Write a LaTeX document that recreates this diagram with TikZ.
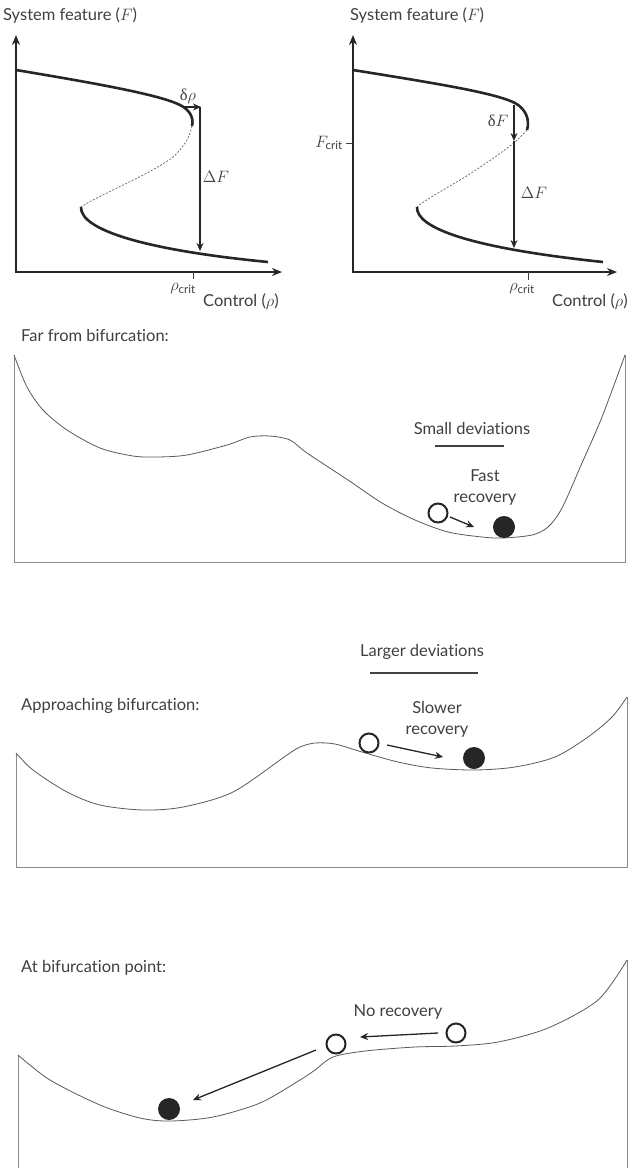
\documentclass[tikz,border=0pt]{standalone}
\usepackage{fix-cm}
\usepackage{fontspec}
\setmainfont{Lato}[Ligatures=NoCommon]
\newfontfamily\grk{Liberation Serif}
\usetikzlibrary{arrows.meta}
\definecolor{ink}{HTML}{262626}
\definecolor{txt}{HTML}{404040}
\definecolor{landc}{HTML}{5A5A5A}
\definecolor{boxc}{HTML}{8A8A8A}
\newcommand\critsub{\mbox{\fontsize{11.5}{13}\selectfont crit}}
\begin{document}
\begin{tikzpicture}[x=1pt,y=-1pt,
  lbl/.style={font=\fontsize{16.5}{21}\selectfont, text=txt, inner sep=0pt},
  scurve/.style={line width=2.6pt, draw=ink},
  unst/.style={line width=0.8pt, draw=gray!90!black, dash pattern=on 2pt off 1.6pt},
  axes/.style={line width=1.8pt, draw=ink, {Stealth[length=10pt,width=8pt]}-{Stealth[length=10pt,width=8pt]}},
  arr/.style={line width=1.3pt, draw=ink, -{Stealth[length=8pt,width=7pt]}},
  tickmark/.style={line width=0.9pt, draw=txt},
  landline/.style={line width=0.8pt, draw=landc},
  boxline/.style={line width=0.9pt, draw=boxc},
  uline/.style={line width=1.1pt, draw=txt},
  openball/.style={circle, draw=ink, line width=2pt, minimum size=19pt, inner sep=0pt},
  fullball/.style={circle, fill=ink, minimum size=22pt, inner sep=0pt}]
\useasboundingbox (0,0) rectangle (630,1168);
\fill[white] (0,0) rectangle (630,1168);

% ---------- left bifurcation plot ----------
\coordinate (ya) at (16,35);
\coordinate (oa) at (16,272);
\coordinate (xa) at (282,272);
\draw[axes] (ya) -- (oa) -- (xa);
\draw[scurve] (16,70) .. controls (100,84) and (160,95) .. (180,105)
  .. controls (190,110) and (194,118) .. (192,126);
\draw[unst] plot[smooth, tension=0.5] coordinates {(192,126) (187,140) (173,157) (147,173) (117,188) (93,200) (81,207)};
\draw[scurve] (81,207) .. controls (80,230) and (145,250) .. (268,262);
\coordinate (ta1) at (193,272);
\coordinate (ta2) at (193,279);
\draw[tickmark] (ta1) -- (ta2);
\coordinate (dra) at (183,107);
\coordinate (drb) at (201,107);
\draw[arr] (dra) -- (drb);
\coordinate (dfa) at (200,107);
\coordinate (dfb) at (200,251);
\draw[arr] (dfa) -- (dfb);
\node[lbl, anchor=west] (ylab1) at (3,16) {System feature ($F$)};
\node[lbl] (drlab) at (188,96) {{\grk δ}$\rho$};
\node[lbl] (dflab1) at (216,177) {$\Delta F$};
\node[lbl] (rc1) at (183,289) {$\rho_{\critsub}$};
\node[lbl, anchor=west] (xlab1) at (203,302) {Control ($\rho$)};

% ---------- right bifurcation plot ----------
\coordinate (yb) at (353,35);
\coordinate (ob) at (353,272);
\coordinate (xb) at (617,272);
\draw[axes] (yb) -- (ob) -- (xb);
\draw[scurve] (353,70) .. controls (440,84) and (495,93) .. (515,103)
  .. controls (526,109) and (530,120) .. (527,130);
\draw[unst] plot[smooth, tension=0.5] coordinates {(527,130) (515,142) (495,157) (465,177) (438,193) (422,203) (417,207)};
\draw[scurve] (417,207) .. controls (416,228) and (470,248) .. (603,262);
\coordinate (tb1) at (528,272);
\coordinate (tb2) at (528,280);
\draw[tickmark] (tb1) -- (tb2);
\coordinate (tf1) at (346,143);
\coordinate (tf2) at (353,143);
\draw[tickmark] (tf1) -- (tf2);
\coordinate (dFa) at (514,105);
\coordinate (dFb) at (514,141);
\coordinate (dFc) at (514,248);
\draw[arr] (dFa) -- (dFb);
\draw[arr] (dFb) -- (dFc);
\node[lbl, anchor=west] (ylab2) at (350,16) {System feature ($F$)};
\node[lbl, anchor=east] (fcrit) at (343,143) {$F_{\critsub}$};
\node[lbl] (dflab) at (498,121) {{\grk δ}$F$};
\node[lbl] (dflab2) at (534,193) {$\Delta F$};
\node[lbl] (rc2) at (522,289) {$\rho_{\critsub}$};
\node[lbl, anchor=west] (xlab2) at (552,302) {Control ($\rho$)};

% ---------- landscape 1 ----------
\node[lbl, anchor=west] (t1) at (21,335) {Far from bifurcation:};
\draw[boxline] (14,355) -- (14,562) -- (625,562) -- (625,355);
\draw[landline] plot[smooth, tension=0.5] coordinates {(14,355) (27,387) (43,410) (67,430) (100,448) (133,456) (157,457) (187,455) (227,445) (250,437) (270,436) (290,440) (307,453) (348,480) (382,503) (415,520) (448,532) (482,537) (503,538) (532,535) (548,527) (562,508) (582,463) (602,417) (625,355)};
\node[lbl] (sd) at (472,428) {Small deviations};
\coordinate (u1a) at (435,446);
\coordinate (u1b) at (504,446);
\draw[uline] (u1a) -- (u1b);
\node[lbl, align=center] (fr) at (485,487) {Fast\\recovery};
\node[openball] (o1) at (438,513) {};
\node[fullball] (f1) at (504,527) {};
\coordinate (a1s) at (450,517);
\coordinate (a1e) at (474,527);
\draw[arr] (a1s) -- (a1e);

% ---------- landscape 2 ----------
\node[lbl] (ld) at (422,652) {Larger deviations};
\coordinate (u2a) at (370,673);
\coordinate (u2b) at (478,673);
\draw[uline] (u2a) -- (u2b);
\node[lbl, anchor=west] (t2) at (21,706) {Approaching bifurcation:};
\node[lbl, align=center] (sr) at (437,719) {Slower\\recovery};
\draw[boxline] (16,753) -- (16,867) -- (627,867) -- (627,697);
\draw[landline] plot[smooth, tension=0.5] coordinates {(16,753) (33,770) (67,792) (100,805) (143,810) (183,807) (233,792) (287,755) (300,747) (315,743) (335,744) (362,752) (398,762) (432,768) (475,770) (515,767) (555,757) (588,737) (612,717) (627,697)};
\node[openball] (o2) at (369,743) {};
\node[fullball] (f2) at (474,758) {};
\coordinate (a2s) at (387,745);
\coordinate (a2e) at (443,757);
\draw[arr] (a2s) -- (a2e);

% ---------- landscape 3 ----------
\node[lbl, anchor=west] (t3) at (21,968) {At bifurcation point:};
\draw[boxline] (18,1055) -- (18,1168);
\draw[boxline] (627,960) -- (627,1168);
\draw[landline] plot[smooth, tension=0.5] coordinates {(18,1055) (50,1080) (100,1105) (140,1118) (170,1121) (213,1117) (260,1103) (300,1080) (315,1070) (333,1057) (365,1051) (415,1047) (455,1046) (498,1042) (548,1028) (598,1000) (627,960)};
\node[lbl] (nr) at (398,1012) {No recovery};
\node[openball] (o3) at (336,1044) {};
\node[openball] (o4) at (456,1033) {};
\node[fullball] (f3) at (169,1109) {};
\coordinate (a3s) at (438,1033);
\coordinate (a3e) at (360,1037);
\draw[arr] (a3s) -- (a3e);
\coordinate (a4s) at (316,1050);
\coordinate (a4e) at (193,1100);
\draw[arr] (a4s) -- (a4e);
\end{tikzpicture}
\end{document}
